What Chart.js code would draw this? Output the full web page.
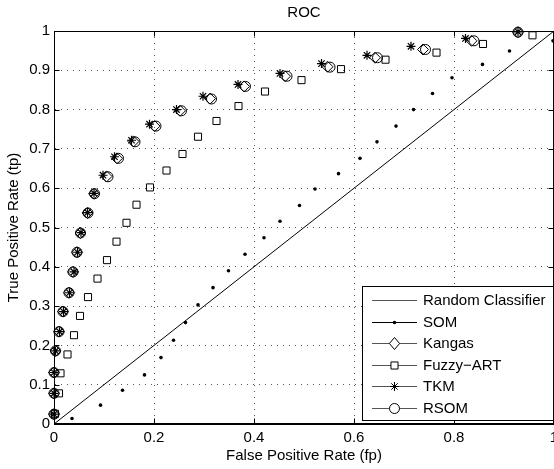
<!DOCTYPE html>
<html><head><meta charset="utf-8">
<script src="https://cdn.jsdelivr.net/npm/chart.js@4/dist/chart.umd.min.js"></script>
<style>html,body{margin:0;padding:0;background:#fff}canvas{display:block}</style>
</head><body>
<canvas id="c" width="554" height="469"></canvas>
<script>
// ---- data ----
const xTickLabels = ['0','0.2','0.4','0.6','0.8','1'];
const yTickLabels = ['0','0.1','0.2','0.3','0.4','0.5','0.6','0.7','0.8','0.9','1'];
const seriesNames = ['Random Classifier','SOM','Kangas','Fuzzy\u2212ART','TKM','RSOM'];

const randomX = [0, 1];
const randomY = [0, 1];

const somX = [0.036,0.093,0.137,0.181,0.214,0.239,0.263,0.288,0.318,0.349,0.382,0.420,0.452,0.491,0.522,0.569,0.612,0.646,0.684,0.719,0.757,0.796,0.857,0.911,0.998];
const somY = [0.014,0.048,0.086,0.125,0.169,0.213,0.258,0.303,0.347,0.390,0.432,0.474,0.516,0.556,0.598,0.637,0.676,0.718,0.758,0.800,0.841,0.881,0.915,0.949,0.975];

const kangasX = [0,0,0,0.003,0.010,0.018,0.030,0.038,0.046,0.053,0.067,0.080,0.105,0.126,0.159,0.201,0.252,0.312,0.380,0.462,0.547,0.642,0.738,0.835,0.928];
const kangasY = [0.025,0.078,0.131,0.186,0.235,0.286,0.334,0.387,0.437,0.486,0.537,0.586,0.630,0.676,0.719,0.758,0.797,0.828,0.859,0.885,0.909,0.932,0.953,0.975,0.997];

const fuzzyX = [0.002,0.010,0.013,0.027,0.040,0.052,0.068,0.087,0.106,0.125,0.145,0.165,0.192,0.225,0.257,0.288,0.325,0.369,0.422,0.495,0.574,0.663,0.765,0.858,0.957];
const fuzzyY = [0.026,0.078,0.129,0.177,0.226,0.275,0.323,0.370,0.417,0.464,0.512,0.558,0.602,0.645,0.687,0.731,0.771,0.809,0.846,0.875,0.903,0.927,0.945,0.967,0.989];

const tkmX = [0,0,0,0.003,0.011,0.019,0.031,0.040,0.047,0.054,0.067,0.080,0.098,0.121,0.155,0.191,0.245,0.298,0.368,0.452,0.535,0.626,0.714,0.823,0.928];
const tkmY = [0.025,0.078,0.131,0.186,0.235,0.286,0.334,0.387,0.437,0.487,0.538,0.587,0.633,0.680,0.722,0.763,0.800,0.834,0.864,0.892,0.917,0.938,0.961,0.981,0.998];

const rsomX = [0,0,0,0.003,0.010,0.018,0.030,0.038,0.046,0.053,0.068,0.081,0.108,0.129,0.162,0.204,0.255,0.315,0.383,0.466,0.552,0.647,0.743,0.840,0.928];
const rsomY = [0.025,0.078,0.131,0.186,0.235,0.286,0.334,0.387,0.437,0.486,0.537,0.586,0.629,0.676,0.718,0.758,0.797,0.827,0.859,0.885,0.908,0.932,0.953,0.975,0.997];

// ---- helpers ----
const pts = (xs, ys) => xs.map((x, i) => ({x: x, y: ys[i]}));
const FONT = '"Liberation Sans", Arial, Helvetica, sans-serif';
Chart.defaults.font.family = FONT;
Chart.defaults.font.size = 15;
Chart.defaults.color = '#000';

function drawMarker(ctx, style, x, y, r) {
  ctx.beginPath();
  if (style === 'dot') {
    ctx.arc(x, y, r, 0, Math.PI * 2); ctx.fillStyle = '#000'; ctx.fill(); return;
  }
  if (style === 'rectRot') {
    ctx.moveTo(x, y - r); ctx.lineTo(x + r * 0.85, y); ctx.lineTo(x, y + r); ctx.lineTo(x - r * 0.85, y); ctx.closePath();
  } else if (style === 'rect') {
    const s = r * Math.SQRT1_2; ctx.rect(x - s, y - s, 2 * s, 2 * s);
  } else if (style === 'circle') {
    ctx.arc(x, y, r, 0, Math.PI * 2);
  } else if (style === 'star') {
    for (let k = 0; k < 4; k++) {
      const a = k * Math.PI / 4;
      ctx.moveTo(x - Math.cos(a) * r, y - Math.sin(a) * r);
      ctx.lineTo(x + Math.cos(a) * r, y + Math.sin(a) * r);
    }
  }
  ctx.fillStyle = '#fff';
  if (style !== 'star') ctx.fill();
  ctx.stroke();
}

const framePlugin = {
  id: 'frame',
  afterDatasetsDraw(chart) {
    const {ctx, chartArea: a, scales: {x, y}} = chart;
    ctx.save();
    ctx.strokeStyle = '#000';
    ctx.lineWidth = 1;
    const L = Math.round(a.left) + 0.5, R = Math.round(a.right) - 0.5;
    const T = Math.round(a.top) + 0.5, B = Math.round(a.bottom) - 0.5;
    ctx.strokeRect(L, T, R - L, B - T);
    const tl = 5;
    ctx.beginPath();
    x.ticks.forEach(t => {
      const px = Math.round(x.getPixelForValue(t.value)) + 0.5;
      ctx.moveTo(px, B); ctx.lineTo(px, B - tl);
      ctx.moveTo(px, T); ctx.lineTo(px, T + tl);
    });
    y.ticks.forEach(t => {
      const py = Math.round(y.getPixelForValue(t.value)) + 0.5;
      ctx.moveTo(L, py); ctx.lineTo(L + tl, py);
      ctx.moveTo(R, py); ctx.lineTo(R - tl, py);
    });
    ctx.stroke();
    ctx.restore();
  },
  afterDraw(chart) {
    const ctx = chart.ctx;
    const a = chart.chartArea;
    ctx.save();
    const bx0 = 362.5, by0 = 286.5, bx1 = Math.round(a.right) - 0.5, by1 = 420.5;
    ctx.fillStyle = '#fff';
    ctx.fillRect(bx0, by0, bx1 - bx0, by1 - by0);
    ctx.strokeStyle = '#000';
    ctx.lineWidth = 1;
    ctx.strokeRect(bx0, by0, bx1 - bx0, by1 - by0);
    ctx.font = '15px ' + FONT;
    ctx.textBaseline = 'middle';
    ctx.textAlign = 'left';
    chart.data.datasets.forEach((ds, i) => {
      const cy = Math.round(300 + i * 21.5) + 0.5;
      ctx.strokeStyle = i === 1 ? '#000' : '#555';
      ctx.lineWidth = 1;
      ctx.beginPath(); ctx.moveTo(372, cy); ctx.lineTo(417, cy); ctx.stroke();
      ctx.strokeStyle = '#000';
      const st = ds.legendMarker;
      if (st) drawMarker(ctx, st, 394.5, cy, st === 'dot' ? 1.8 : (st === 'rectRot' ? 6 : (st === 'star' ? 4.5 : 5)));
      ctx.fillStyle = '#000';
      ctx.fillText(ds.label, 423, cy + 0.5);
    });
    ctx.restore();
  }
};

const marker = (style, r, w) => ({
  showLine: false, pointStyle: style, pointRadius: r, pointHoverRadius: r,
  pointBackgroundColor: 'rgba(0,0,0,0)', pointBorderColor: '#000', pointBorderWidth: w || 1,
  borderColor: '#000', backgroundColor: 'rgba(0,0,0,0)', clip: false
});

new Chart(document.getElementById('c'), {
  type: 'scatter',
  data: {
    datasets: [
      {label: seriesNames[0], data: pts(randomX, randomY), showLine: true, pointRadius: 0, borderColor: '#000', borderWidth: 1, legendMarker: null},
      {label: seriesNames[1], data: pts(somX, somY), showLine: false, pointStyle: 'circle', pointRadius: 1.8, pointBackgroundColor: '#000', pointBorderColor: '#000', pointBorderWidth: 0, clip: false, legendMarker: 'dot'},
      Object.assign({label: seriesNames[2], data: pts(kangasX, kangasY), legendMarker: 'rectRot'}, marker('rectRot', 5.5)),
      Object.assign({label: seriesNames[3], data: pts(fuzzyX, fuzzyY), legendMarker: 'rect'}, marker('rect', 5)),
      Object.assign({label: seriesNames[4], data: pts(tkmX, tkmY), legendMarker: 'star'}, marker('star', 4.5, 1.2)),
      Object.assign({label: seriesNames[5], data: pts(rsomX, rsomY), legendMarker: 'circle'}, marker('circle', 5))
    ]
  },
  options: {
    responsive: false,
    animation: false,
    events: [],
    layout: {padding: 0, autoPadding: false},
    plugins: {
      legend: {display: false},
      tooltip: {enabled: false},
      title: {display: true, text: 'ROC', fullSize: false, font: {size: 15, weight: 'normal'}, color: '#000', padding: {top: 4, bottom: 9}}
    },
    scales: {
      x: {
        type: 'linear', min: 0, max: 1,
        ticks: {stepSize: 0.2, padding: 5, color: '#000', maxRotation: 0, autoSkip: false,
          callback: (v, i) => xTickLabels[i]},
        grid: {color: '#555', drawTicks: false, lineWidth: 1},
        border: {color: '#000', dash: [1, 5]},
        title: {display: true, text: 'False Positive Rate (fp)', font: {size: 15}, color: '#000', padding: {top: 0, bottom: 4}},
        afterFit: s => { s.height = 45; s.paddingLeft = 0; s.paddingRight = 0; }
      },
      y: {
        type: 'linear', min: 0, max: 1,
        ticks: {stepSize: 0.1, padding: 4, color: '#000', autoSkip: false,
          callback: (v, i) => yTickLabels[i]},
        grid: {color: '#555', drawTicks: false, lineWidth: 1},
        border: {color: '#000', dash: [1, 5]},
        title: {display: true, text: 'True Positive Rate (tp)', font: {size: 15}, color: '#000', padding: {top: 5, bottom: 0}},
        afterFit: s => { s.width = 54; }
      }
    }
  },
  plugins: [framePlugin]
});
</script>
</body></html>
